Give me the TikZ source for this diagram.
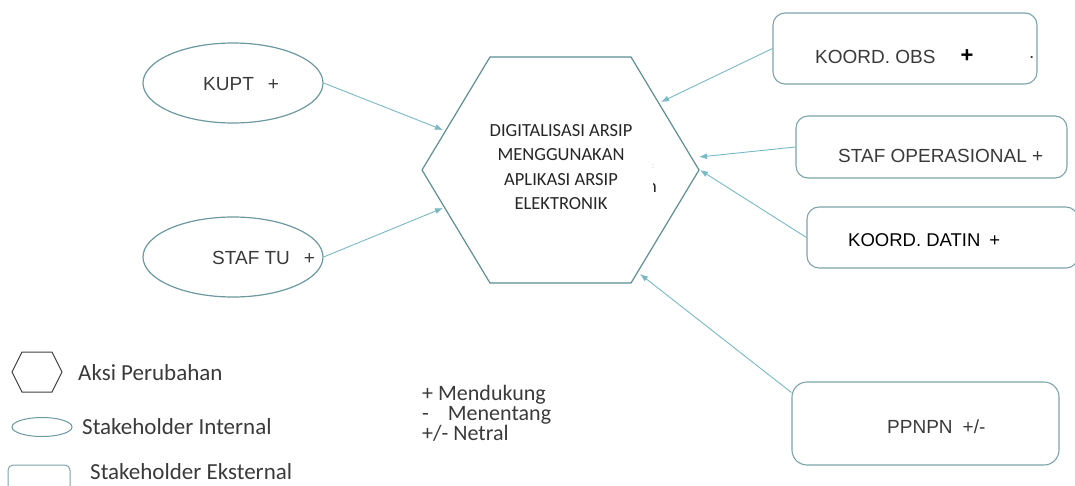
\documentclass[tikz,border=0pt]{standalone}
\usepackage{fontspec}
\setmainfont{Carlito}
\newfontfamily\arialfont{Liberation Sans}
\usetikzlibrary{shapes.geometric,arrows.meta,positioning,calc}
\definecolor{hexline}{HTML}{5E8E96}
\definecolor{arrowteal}{HTML}{78B9C4}
\definecolor{shline}{HTML}{6C99A0}
\definecolor{boxline}{HTML}{7DA3A9}
\definecolor{labelgray}{HTML}{3A3A3A}
\tikzset{
  stakeint/.style={draw=shline,line width=1.2pt,ellipse,minimum width=180pt,minimum height=80pt,inner sep=0pt},
  stakeext/.style={draw=boxline,line width=1.1pt,rectangle,rounded corners=12pt,inner sep=0pt},
  arr/.style={draw=arrowteal,line width=0.9pt,-{Latex[length=8pt,width=6pt]}},
  lbl/.style={font=\arialfont\fontsize{19}{22}\selectfont,text=labelgray,inner sep=0pt,anchor=west},
  legtext/.style={font=\fontsize{23}{26}\selectfont,text=labelgray,inner sep=0pt,anchor=west},
}
\begin{document}
\begin{tikzpicture}[x=1pt,y=-1pt]
\useasboundingbox (0,0) rectangle (1075,485);
% aksi perubahan
\draw[hexline,line width=1.2pt] (490,57) -- (631,57) -- (699,170) -- (631,283) -- (490,283) -- (422,170) -- cycle;
\node[align=center,font=\fontsize{18.5}{24.5}\selectfont,text=black!85] (aksi) at (561,167)
  {DIGITALISASI ARSIP\\MENGGUNAKAN\\APLIKASI ARSIP\\ELEKTRONIK};
\node[text=gray!40,font=\fontsize{9}{9}\selectfont,inner sep=0pt] (titik) at (653,167) {:};
\begin{scope}
  \clip (653,178) rectangle (664,200);
  \node[font=\fontsize{18.5}{22}\selectfont,text=black!85,inner sep=0pt] (sisa) at (652,188) {n};
\end{scope}
\coordinate (tipkupt) at (443,130);
\coordinate (tiptu) at (443,208);
\coordinate (tipobs) at (661,102);
\coordinate (tipops) at (699,157);
\coordinate (tipdatin) at (700,170);
\coordinate (tipppnpn) at (640,274);
% stakeholder internal
\node[stakeint] (kupt) at (233,83) {};
\node[lbl] (kupttxt) at (203,84) {KUPT\hspace{14pt}+};
\node[stakeint] (staftu) at (233,257) {};
\node[lbl] (staftutxt) at (212,258) {STAF TU\hspace{14pt}+};
% stakeholder eksternal
\node[stakeext,minimum width=264pt,minimum height=71pt] (obs) at (905,48.5) {};
\node[lbl] (obstxt) at (815,57) {KOORD. OBS};
\node[font=\arialfont\bfseries\fontsize{22}{22}\selectfont,inner sep=0pt] (obsplus) at (967,56) {+};
\node[lbl] (obsdot) at (1029,57) {.};
\node[stakeext,minimum width=271pt,minimum height=62pt] (ops) at (931.5,147) {};
\node[lbl] (opstxt) at (838,156) {STAF OPERASIONAL +};
\node[stakeext,minimum width=271pt,minimum height=61pt] (datin) at (942.5,237.5) {};
\node[lbl,text=black,font=\arialfont\fontsize{18.5}{22}\selectfont] (datintxt) at (848,240) {KOORD. DATIN\hspace{9pt}+};
\node[stakeext,minimum width=267pt,minimum height=83pt,rounded corners=15pt] (ppnpn) at (925.5,423.5) {};
\node[lbl] (ppnpntxt) at (887,427) {PPNPN\hspace{10pt}+/-};
% panah
\draw[arr] (kupt.east) -- (tipkupt);
\draw[arr] (staftu.east) -- (tiptu);
\draw[arr] (obs.west) -- (tipobs);
\draw[arr] (ops.west) -- (tipops);
\draw[arr] (datin.west) -- (tipdatin);
\draw[arr] (ppnpn.167) -- (tipppnpn);
% keterangan
\draw[black!75,line width=1pt] (12,372) -- (22,352) -- (52,352) -- (62,372) -- (52,392) -- (22,392) -- cycle;
\node[legtext] (legaksi) at (78,373) {Aksi Perubahan};
\node[draw=shline,line width=1pt,ellipse,minimum width=60pt,minimum height=19pt,inner sep=0pt] (legint) at (42,427) {};
\node[legtext] (leginttxt) at (82,427) {Stakeholder Internal};
\node[stakeext,line width=1pt,minimum width=62pt,minimum height=40pt,rounded corners=5pt] (legext) at (39,485) {};
\node[legtext] (legexttxt) at (90,472) {Stakeholder Eksternal};
\node[legtext,font=\fontsize{22}{20}\selectfont,align=left] (sifat) at (422,413)
  {+ Mendukung\\-\hspace{19pt}Menentang\\+/- Netral};
\end{tikzpicture}
\end{document}
